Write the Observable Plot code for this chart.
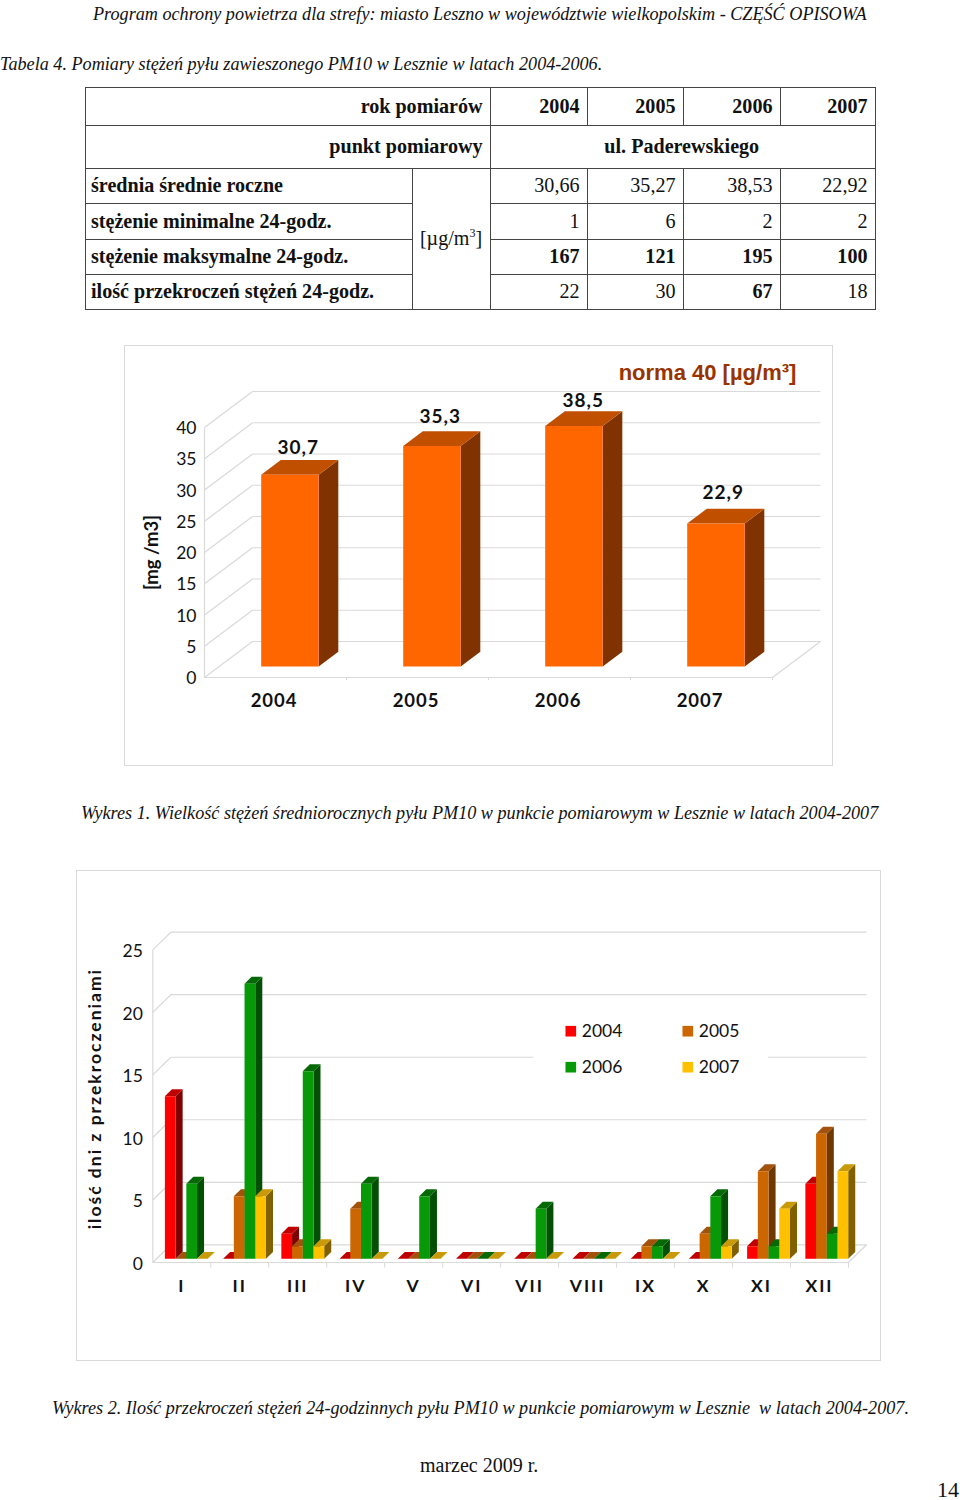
<!DOCTYPE html>
<html lang="pl">
<head>
<meta charset="utf-8">
<script src="https://cdn.jsdelivr.net/npm/d3@7"></script>
<script src="https://cdn.jsdelivr.net/npm/@observablehq/plot@0.6"></script>
<style>
html,body{margin:0;padding:0;background:#fff;}
body{position:relative;width:960px;height:1500px;overflow:hidden;font-family:"Liberation Serif",serif;color:#111;}
.t{position:absolute;white-space:nowrap;line-height:1;transform-origin:0 50%;}
.i{font-style:italic;font-size:19px;transform:scaleX(.956);}
table{position:absolute;left:84.5px;top:86.5px;width:790px;height:222px;border-collapse:collapse;table-layout:fixed;font-size:20.1px;}
td{border:1.5px solid #444;padding:0 7px 0 5.5px;text-align:right;vertical-align:middle;line-height:1;white-space:nowrap;}
td.l{text-align:left;font-weight:bold;}
td.b{font-weight:bold;}
td.c{text-align:center;}
sup{font-size:12px;line-height:0;}
.sp1 text{letter-spacing:1px;}
.sp2 text{letter-spacing:2px;}
</style>
</head>
<body>
<div class="t i" style="left:93px;top:4px;">Program ochrony powietrza dla strefy: miasto Leszno w województwie wielkopolskim - CZĘŚĆ OPISOWA</div>
<div class="t i" style="left:0;top:54px;">Tabela 4. Pomiary stężeń pyłu zawieszonego PM10 w Lesznie w latach 2004-2006.</div>
<table>
<colgroup><col style="width:327px"><col style="width:78px"><col style="width:97px"><col style="width:96px"><col style="width:97px"><col style="width:95px"></colgroup>
<tr style="height:38px"><td colspan="2" class="b">rok pomiarów</td><td class="b">2004</td><td class="b">2005</td><td class="b">2006</td><td class="b">2007</td></tr>
<tr style="height:43px"><td colspan="2" class="b">punkt pomiarowy</td><td colspan="4" class="b c">ul. Paderewskiego</td></tr>
<tr style="height:35px"><td class="l">średnia średnie roczne</td><td rowspan="4" class="c" style="padding:0">[µg/m<sup>3</sup>]</td><td>30,66</td><td>35,27</td><td>38,53</td><td>22,92</td></tr>
<tr style="height:36px"><td class="l">stężenie minimalne 24-godz.</td><td>1</td><td>6</td><td>2</td><td>2</td></tr>
<tr style="height:35px"><td class="l">stężenie maksymalne 24-godz.</td><td class="b">167</td><td class="b">121</td><td class="b">195</td><td class="b">100</td></tr>
<tr style="height:35px"><td class="l">ilość przekroczeń stężeń 24-godz.</td><td>22</td><td>30</td><td class="b">67</td><td>18</td></tr>
</table>
<div class="t i" style="left:81px;top:803px;">Wykres 1. Wielkość stężeń średniorocznych pyłu PM10 w punkcie pomiarowym w Lesznie w latach 2004-2007</div>
<div class="t i" style="left:52px;top:1398px;">Wykres 2. Ilość przekroczeń stężeń 24-godzinnych pyłu PM10 w punkcie pomiarowym w Lesznie&nbsp; w latach 2004-2007.</div>
<div class="t" style="left:420px;top:1455px;font-size:20px;">marzec 2009 r.</div>
<div class="t" style="left:937px;top:1479px;font-size:22px;">14</div>
<script>
// ---- data ----
const annualYears = ["2004", "2005", "2006", "2007"];
const annualMeans = [30.7, 35.3, 38.5, 22.9];
const annualTicks = [0, 5, 10, 15, 20, 25, 30, 35, 40];

const months = ["I", "II", "III", "IV", "V", "VI", "VII", "VIII", "IX", "X", "XI", "XII"];
const exceed2004 = [13, 0, 2, 0, 0, 0, 0, 0, 0, 0, 1, 6];
const exceed2005 = [0, 5, 1, 4, 0, 0, 0, 0, 1, 2, 7, 10];
const exceed2006 = [6, 22, 15, 6, 5, 0, 4, 0, 1, 5, 1, 2];
const exceed2007 = [0, 5, 1, 0, 0, 0, 0, 0, 0, 1, 4, 7];
const monthlyTicks = [0, 5, 10, 15, 20, 25];

// ---- styles ----
const gridColor = "#d9d9d9";
const sans = "Lato, sans-serif";
const orange = {front: "#ff6600", top: "#c05000", side: "#803300"};
const seriesColors = [
  {year: "2004", front: "#ff0000", top: "#c00000", side: "#7f0000"},
  {year: "2005", front: "#cc6600", top: "#a3520c", side: "#6e3803"},
  {year: "2006", front: "#089908", top: "#056a05", side: "#034f03"},
  {year: "2007", front: "#ffc000", top: "#c89a0a", side: "#806000"}
];

// Extruded box as polygons in scale units (x in categories, y in values).
function box(rows, id, x0, x1, v, depth, colors) {
  const p = (x, y, d) => ({x: x + d * depth.dx, y: y + d * depth.dy});
  const face = (name, fill, pts) => pts.forEach(q => rows.push({...p(...q), id: id + name, fill}));
  face("s", colors.side, [[x1, 0, depth.d0], [x1, v, depth.d0], [x1, v, depth.d1], [x1, 0, depth.d1]]);
  face("t", colors.top, [[x0, v, depth.d0], [x1, v, depth.d0], [x1, v, depth.d1], [x0, v, depth.d1]]);
  face("f", colors.front, [[x0, 0, depth.d0], [x1, 0, depth.d0], [x1, v, depth.d0], [x0, v, depth.d0]]);
}
function wall(ticks, n, depth) {
  const back = ticks.map(v => ({x1: depth.dx, y1: v + depth.dy, x2: n + depth.dx, y2: v + depth.dy}));
  const side = ticks.map(v => ({x1: 0, y1: v, x2: depth.dx, y2: v + depth.dy}));
  const floor = [{x1: 0, y1: 0, x2: n, y2: 0}, {x1: n, y1: 0, x2: n + depth.dx, y2: depth.dy},
                 {x1: 0, y1: 0, x2: 0, y2: ticks[ticks.length - 1]}];
  return [...back, ...side, ...floor];
}
const linkOpts = w => ({x1: "x1", y1: "y1", x2: "x2", y2: "y2", stroke: gridColor, strokeWidth: w});

// ---- chart 1 ----
const depth1 = {dx: 48 / 142, dy: 36 / 6.25, d0: 11 / 36, d1: 25.7 / 36};
const rows1 = [];
annualMeans.forEach((v, i) => box(rows1, "a" + i, i + 0.296, i + 0.701, v, depth1, orange));
const labelNudgeX = [-1, -1, 0, -2];
const labelGap = [12.3, 14, 10.7, 16];
const labels1 = annualMeans.map((v, i) => ({
  x: i + 0.4985 + depth1.dx * 0.5 + labelNudgeX[i] / 142,
  y: v + depth1.dy * depth1.d1 + labelGap[i] / 6.25,
  t: String(v).replace(".", ",")
}));

document.body.append(Plot.plot({
  width: 707, height: 419,
  marginLeft: 79, marginRight: 12, marginTop: 45, marginBottom: 88,
  x: {domain: [0, 4 + depth1.dx], axis: null},
  y: {domain: [0, 40 + depth1.dy]},
  color: {type: "identity"},
  style: {position: "absolute", left: "125px", top: "346px", fontFamily: sans, outline: "1.5px solid #d9d9d9", overflow: "visible", background: "#fff", color: "#111"},
  marks: [
    Plot.link(wall(annualTicks, 4, depth1), linkOpts(1.2)),
    Plot.ruleX(d3.range(1, 5), {y1: 0, y2: -0.5, stroke: gridColor}),
    Plot.axisY({ticks: annualTicks, tickSize: 0, tickPadding: 8, label: null, fontSize: 17.5, anchor: "left", dy: 1}),
    Plot.line(rows1, {x: "x", y: "y", z: "id", fill: "fill", stroke: "none"}),
    Plot.text(labels1, {x: "x", y: "y", text: "t", fontSize: 19, fontWeight: "bold", className: "sp1"}),
    Plot.text(annualYears, {x: (d, i) => i + 0.49, y: () => 0, text: d => d, dy: 24, fontSize: 18.5, fontWeight: "bold", className: "sp1"}),
    Plot.text(["[mg /m3]"], {frameAnchor: "left", dx: -52, y: () => 20, text: d => d, rotate: -90, textAnchor: "middle", fontSize: 18.5, fontWeight: "bold"}),
    Plot.text(["norma 40 [µg/m³]"], {frameAnchor: "top-left", dx: 503, dy: -27, text: d => d, textAnchor: "middle", fontFamily: "Liberation Sans", fontSize: 22, fontWeight: "bold", fill: "#993300"})
  ]
}));

// ---- chart 2 ----
const series = [exceed2004, exceed2005, exceed2006, exceed2007];
const depth2 = {dx: 18 / 57.9, dy: 17.7 / 12.5, d0: 0.21, d1: 0.6};
const stride = 58.15 / 57.9, barW = 10.7 / 57.9, start = 8.3 / 57.9;
const rows2 = [];
months.forEach((m, i) => series.forEach((s, j) => {
  const x0 = start + i * stride + j * barW;
  box(rows2, m + j, x0, x0 + barW, s[i], depth2, seriesColors[j]);
}));
const legendSpots = [[418, 99], [535, 99], [418, 135], [535, 135]];

document.body.append(Plot.plot({
  width: 803, height: 489,
  marginLeft: 75.3, marginRight: 14, marginTop: 60.7, marginBottom: 98,
  x: {domain: [0, 12 + depth2.dx], axis: null},
  y: {domain: [0, 25 + depth2.dy]},
  color: {type: "identity"},
  style: {position: "absolute", left: "77px", top: "871px", fontFamily: sans, outline: "1.5px solid #d9d9d9", overflow: "visible", background: "#fff", color: "#111"},
  marks: [
    Plot.link(wall(monthlyTicks, 12, depth2), linkOpts(1.2)),
    Plot.ruleX(d3.range(1, 13), {y1: 0, y2: -0.45, stroke: gridColor}),
    Plot.rect([0], {x1: () => 6.575, x2: () => 10.617, y1: () => 15.5, y2: () => 17.5, fill: "#fff"}),
    Plot.axisY({ticks: monthlyTicks, tickSize: 0, tickPadding: 10, label: null, fontSize: 17.5, anchor: "left", dy: 1.5}),
    Plot.line(rows2, {x: "x", y: "y", z: "id", fill: "fill", stroke: "none"}),
    Plot.text(months, {x: (d, i) => i + 0.5, y: () => 0, text: d => d, dy: 24, fontSize: 17.5, fontWeight: "bold", className: "sp2"}),
    Plot.text(["ilość dni z przekroczeniami"], {frameAnchor: "left", dx: -57.3, y: () => 13.1, text: d => d, rotate: -90, textAnchor: "middle", fontSize: 17.5, fontWeight: "bold", className: "sp2"}),
    ...seriesColors.flatMap((c, k) => [
      Plot.dot([c], {frameAnchor: "top-left", dx: legendSpots[k][0], dy: legendSpots[k][1], symbol: "square", r: 6, fill: c.front, stroke: "none"}),
      Plot.text([c], {frameAnchor: "top-left", dx: legendSpots[k][0] + 11, dy: legendSpots[k][1], text: "year", textAnchor: "start", lineAnchor: "middle", fontSize: 17.5})
    ])
  ]
}));
</script>
</body>
</html>
